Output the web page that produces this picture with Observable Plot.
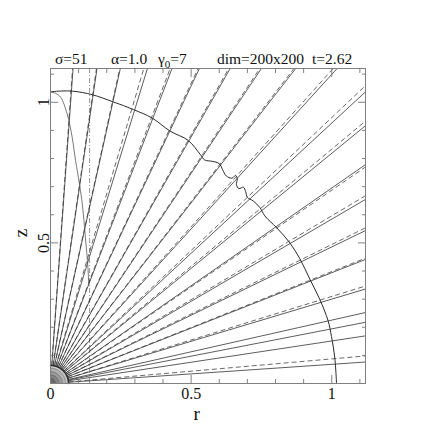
<!DOCTYPE html>
<html>
<head>
<meta charset="utf-8">
<script src="https://cdn.jsdelivr.net/npm/d3@7"></script>
<script src="https://cdn.jsdelivr.net/npm/@observablehq/plot@0.6"></script>
<style>
  html, body { margin: 0; padding: 0; background: #fff; }
  #chart svg { display: block; }
</style>
</head>
<body>
<div id="chart"></div>
<script>
// ---- data ----
// field-line directions (degrees from the r axis)
const solidAngles  = [85.9, 81.6, 77.5, 72.9, 68.9, 64.7, 60.3, 56.2, 52.1, 47.7, 42.8, 39.3, 34.8, 30.3, 25.9, 21.5, 16.7, 12.7, 11.0, 8.6, 3.9];
const dashedAngles = [86.0, 81.7, 77.6, 73.5, 69.2, 64.9, 60.5, 56.4, 52.3, 48.1, 43.4, 39.8, 34.5, 30.8, 26.3, 21.7, 17.2, 5.0];

// outer front (shock)
const shockR = [0, 0.04, 0.083, 0.148, 0.224, 0.295, 0.361, 0.426, 0.490, 0.532, 0.548, 0.575, 0.600, 0.612, 0.625, 0.645, 0.658, 0.664, 0.661, 0.670, 0.686, 0.694, 0.700, 0.721, 0.745, 0.762, 0.804, 0.851, 0.887, 0.922, 0.957, 0.987, 0.999, 1.011, 1.017];
const shockZ = [1.037, 1.040, 1.039, 1.027, 1.001, 0.974, 0.944, 0.897, 0.864, 0.815, 0.795, 0.790, 0.782, 0.760, 0.738, 0.730, 0.740, 0.728, 0.707, 0.693, 0.698, 0.682, 0.662, 0.649, 0.625, 0.596, 0.554, 0.500, 0.443, 0.371, 0.300, 0.223, 0.167, 0.089, 0];

// thin inner curve
const innerR = [0, 0.018, 0.036, 0.059, 0.077, 0.089, 0.095, 0.113, 0.124, 0.133, 0.136];
const innerZ = [1.037, 1.032, 1.018, 0.959, 0.876, 0.793, 0.758, 0.639, 0.520, 0.414, 0.349];

// vertical dash-dot line position
const cylinderR = 0.139;

// central source (shaded quarter disk) radii
const sourceRadii = [0.066, 0.054, 0.042, 0.030, 0.018];
const sourceShade = ["#c8c8c8", "#b2b2b2", "#9a9a9a", "#828282", "#6a6a6a"];
const sourceEdge = 0.064;

// axes
const majorTicks = [0, 0.5, 1];
const minorTicks = [0.1, 0.2, 0.3, 0.4, 0.6, 0.7, 0.8, 0.9, 1.1];
const yLabelTicks = [0.5, 1];
const domainMax = 1.12;

// title parts
const titleParts = [
  {text: "σ=51", x: 55},
  {text: "α=1.0", x: 111},
  {text: "γ", sub: "0", rest: "=7", x: 158},
  {text: "dim=200x200", x: 217},
  {text: "t=2.62", x: 312}
];

// ---- build mark tables ----
const deg = Math.PI / 180;
const rays = (angles) => angles.map(a => ({
  x1: sourceEdge * Math.cos(a * deg), y1: sourceEdge * Math.sin(a * deg),
  x2: 2.5 * Math.cos(a * deg), y2: 2.5 * Math.sin(a * deg)
}));
const shock = shockR.map((r, i) => ({r, z: shockZ[i]}));
const inner = innerR.map((r, i) => ({r, z: innerZ[i]}));
const disk = (R) => d3.range(0, 91).map(k => ({r: R * Math.cos((90 - k) * deg), z: R * Math.sin((90 - k) * deg)}));

const serif = "Liberation Serif, Times New Roman, serif";
const frameColor = "#808080";

const marks = [];
// shaded source
sourceRadii.forEach((R, i) => {
  marks.push(Plot.areaY(disk(R), {x: "r", y: "z", fill: sourceShade[i], curve: "linear"}));
  marks.push(Plot.line(disk(R), {x: "r", y: "z", stroke: "#555", strokeWidth: 0.5}));
});
marks.push(Plot.line(disk(sourceEdge), {x: "r", y: "z", stroke: "#222", strokeWidth: 1.4}));
// vertical dash-dot line
marks.push(Plot.ruleX([cylinderR], {stroke: "#777", strokeWidth: 0.8, strokeDasharray: "5,2,1,2"}));
// field lines
marks.push(Plot.link(rays(dashedAngles), {x1: "x1", y1: "y1", x2: "x2", y2: "y2", stroke: "#444", strokeWidth: 0.8, strokeDasharray: "5,3", clip: true}));
marks.push(Plot.link(rays(solidAngles), {x1: "x1", y1: "y1", x2: "x2", y2: "y2", stroke: "#333", strokeWidth: 0.8, clip: true}));
// inner thin curve
marks.push(Plot.line(inner, {x: "r", y: "z", stroke: "#555", strokeWidth: 0.8, curve: "catmull-rom"}));
// shock
marks.push(Plot.line(shock, {x: "r", y: "z", stroke: "#2a2a2a", strokeWidth: 1, curve: "catmull-rom"}));
// frame
marks.push(Plot.frame({stroke: frameColor, strokeWidth: 1}));
// axes: bottom/top
marks.push(Plot.axisX(majorTicks, {anchor: "bottom", tickSize: -8, tickPadding: 12, tickFormat: d => String(d), stroke: frameColor, fill: "#111", fontSize: 16, label: null}));
marks.push(Plot.axisX(minorTicks, {anchor: "bottom", tickSize: -4, tickFormat: () => "", stroke: frameColor, label: null}));
marks.push(Plot.axisX(majorTicks, {anchor: "top", tickSize: -8, tickFormat: () => "", stroke: frameColor, label: null}));
marks.push(Plot.axisX(minorTicks, {anchor: "top", tickSize: -4, tickFormat: () => "", stroke: frameColor, label: null}));
// axes: left/right
marks.push(Plot.axisY(majorTicks, {anchor: "left", tickSize: -8, tickFormat: () => "", stroke: frameColor, label: null}));
marks.push(Plot.axisY(yLabelTicks, {anchor: "left", tickSize: 0, tickPadding: 2, tickRotate: -90, tickFormat: d => String(d), fill: "#111", fontSize: 16, label: null}));
marks.push(Plot.axisY(minorTicks, {anchor: "left", tickSize: -4, tickFormat: () => "", stroke: frameColor, label: null}));
marks.push(Plot.axisY(majorTicks, {anchor: "right", tickSize: -8, tickFormat: () => "", stroke: frameColor, label: null}));
marks.push(Plot.axisY(minorTicks, {anchor: "right", tickSize: -4, tickFormat: () => "", stroke: frameColor, label: null}));
// axis titles
marks.push(Plot.text(["r"], {x: 0.52, frameAnchor: "bottom", dy: 36, fontSize: 19, fill: "#111"}));
marks.push(Plot.text(["z"], {y: 0.52, frameAnchor: "left", dx: -30, rotate: -90, fontSize: 19, fill: "#111"}));

const chart = Plot.plot({
  width: 436,
  height: 430,
  marginLeft: 50,
  marginRight: 71,
  marginTop: 68,
  marginBottom: 47,
  x: {domain: [0, domainMax]},
  y: {domain: [0, domainMax]},
  style: {fontFamily: serif, fontSize: "16px", background: "#fff", color: "#111"},
  marks
});

// title (with subscript) placed above the frame
const svg = d3.select(chart);
const title = svg.append("text")
  .attr("y", 64)
  .attr("text-anchor", "start")
  .attr("font-family", serif)
  .attr("font-size", 15.5)
  .attr("fill", "#111");
titleParts.forEach(p => {
  title.append("tspan").attr("x", p.x).attr("dy", 0).text(p.text);
  if (p.sub) {
    title.append("tspan").attr("dy", 4).attr("font-size", 11).text(p.sub);
    title.append("tspan").attr("dy", -4).text(p.rest);
  }
});

document.getElementById("chart").append(chart);
</script>
</body>
</html>
